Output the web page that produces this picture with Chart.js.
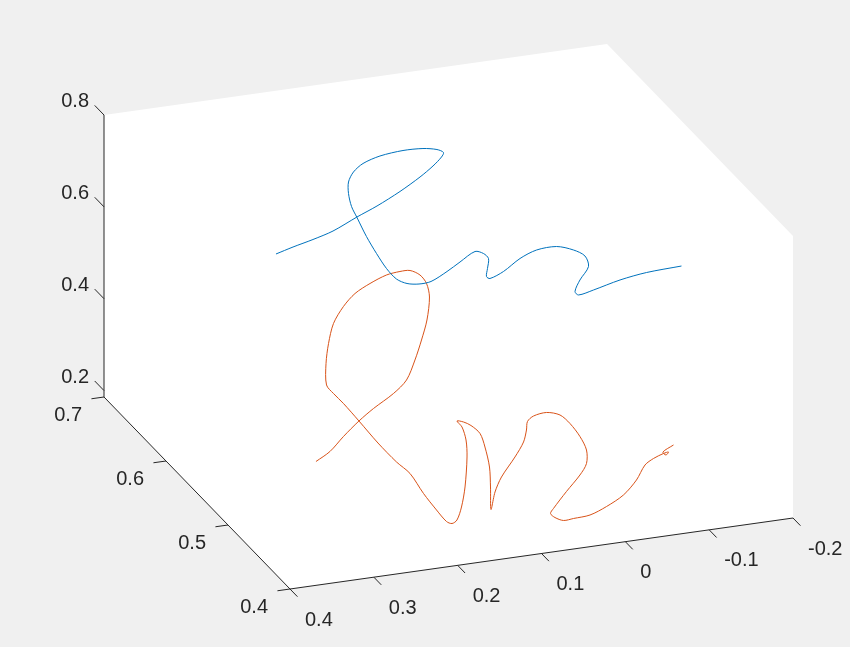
<!DOCTYPE html>
<html>
<head>
<meta charset="utf-8">
<title>plot3</title>
<script src="https://cdn.jsdelivr.net/npm/chart.js@4.4.1/dist/chart.umd.min.js"></script>
<style>
  html, body { margin: 0; padding: 0; background: #f0f0f0; overflow: hidden; }
  #wrap { width: 850px; height: 647px; }
</style>
</head>
<body>
<div id="wrap"><canvas id="c" width="850" height="647"></canvas></div>
<script>
// Axis limits and ticks of the 3-D box
const xLimits = [-0.2, 0.4];
const yLimits = [0.4, 0.7];
const zLimits = [0.186, 0.8];
const xTicks = [0.4, 0.3, 0.2, 0.1, 0, -0.1, -0.2];
const xTickLabels = ['0.4', '0.3', '0.2', '0.1', '0', '-0.1', '-0.2'];
const yTicks = [0.4, 0.5, 0.6, 0.7];
const yTickLabels = ['0.4', '0.5', '0.6', '0.7'];
const zTicks = [0.2, 0.4, 0.6, 0.8];
const zTickLabels = ['0.2', '0.4', '0.6', '0.8'];

// Trajectory 1 (blue)
const blueX = [0.2503,0.2300,0.2062,0.1823,0.1537,0.1298,0.1024,0.0785,0.0630,0.0529,
  0.0505,0.0583,0.0750,0.0988,0.1263,0.1465,0.1579,0.1638,0.1638,0.1602,
  0.1537,0.1424,0.1304,0.1185,0.1066,0.0940,0.0797,0.0654,0.0463,0.0308,0.0129,
  0.0583,0.0523,0.0535,0.0547,0.0505,0.0344,0.0147,-0.0050,-0.0288,-0.0491,
  -0.0628,-0.0670,-0.0568,-0.0509,-0.0551,-0.0729,-0.1046,-0.1362,-0.1779];
const blueY = [0.625,0.625,0.625,0.625,0.625,0.625,0.625,0.625,0.625,0.625,
  0.625,0.625,0.625,0.625,0.625,0.625,0.625,0.625,0.625,0.625,
  0.625,0.625,0.625,0.625,0.625,0.625,0.625,0.625,0.625,0.625,0.625,
  0.55,0.55,0.55,0.55,0.55,0.55,0.55,0.55,0.55,0.55,
  0.55,0.55,0.55,0.55,0.55,0.55,0.55,0.55,0.55];
const blueZ = [0.5633,0.5733,0.5835,0.5958,0.6190,0.6368,0.6613,0.6867,0.7067,0.7236,
  0.7328,0.7413,0.7478,0.7496,0.7447,0.7336,0.7180,0.6978,0.6727,0.6435,
  0.6179,0.5736,0.5335,0.4978,0.4718,0.4588,0.4540,0.4558,0.4726,0.4893,0.5076,
  0.6194,0.6070,0.5855,0.5684,0.5630,0.5741,0.5973,0.6107,0.6122,0.5994,
  0.5828,0.5588,0.5321,0.5086,0.4999,0.5061,0.5198,0.5279,0.5313];

// Trajectory 2 (orange)
const orangeX = [0.3413,0.3246,0.3085,0.2900,0.2727,0.2488,0.2333,0.2232,0.2154,0.2089,
  0.2059,0.2094,0.2172,0.2291,0.2411,0.2572,0.2768,0.2947,0.3085,0.3204,
  0.3263,0.3293,0.3287,0.3204,0.3085,0.2900,0.2673,0.2452,0.2291,0.2130,
  0.1975,0.1856,0.1790,0.1731,0.1677,0.1635,0.1611,0.1623,0.1671,0.1731,
  0.1653,0.1564,0.1456,0.1397,0.1343,0.1331,0.1325,0.1277,0.1200,0.1039,
  0.0937,0.0902,0.0890,0.0818,0.0663,0.0502,0.0383,0.0264,0.0186,0.0186,
  0.0264,0.0425,0.0580,0.0615,0.0562,0.0460,0.0341,0.0144,-0.0053,-0.0255,
  -0.0410,-0.0512,-0.0613,-0.0732,-0.0792,-0.0762,-0.0726,-0.0852];
const orangeY = orangeX.map(() => 0.4375);
const orangeZ = [0.3962,0.4137,0.4422,0.4712,0.4939,0.5205,0.5458,0.5868,0.6283,0.6702,
  0.7195,0.7498,0.7703,0.7832,0.7841,0.7806,0.7672,0.7500,0.7253,0.6913,
  0.6493,0.6065,0.5596,0.5389,0.5141,0.4712,0.4174,0.3704,0.3412,0.2935,
  0.2536,0.2255,0.2194,0.2255,0.2524,0.2949,0.3596,0.3969,0.4265,0.4411,
  0.4369,0.4270,0.4068,0.3758,0.3309,0.2871,0.2379,0.2748,0.3054,0.3449,
  0.3749,0.4001,0.4183,0.4284,0.4321,0.4225,0.4009,0.3695,0.3381,0.3087,
  0.2857,0.2539,0.2209,0.2109,0.2008,0.1917,0.1930,0.1955,0.2089,0.2288,
  0.2574,0.2875,0.2990,0.3068,0.3086,0.3028,0.3103,0.3223];

// Orthographic view: where the box corners land on the 2-D plane
const view = {
  origin: [290, 589],   // (x = 0.4, y = 0.4, z = zmin)
  xEnd:   [793, 518],   // (x = -0.2, y = 0.4, z = zmin)
  yEnd:   [104, 397],   // (x = 0.4, y = 0.7, z = zmin)
  zRise:  282           // height of the z range
};

function project(x, y, z) {
  const u = (xLimits[1] - x) / (xLimits[1] - xLimits[0]);
  const v = (y - yLimits[0]) / (yLimits[1] - yLimits[0]);
  const w = (z - zLimits[0]) / (zLimits[1] - zLimits[0]);
  const [ox, oy] = view.origin;
  return {
    x: ox + u * (view.xEnd[0] - ox) + v * (view.yEnd[0] - ox),
    y: oy + u * (view.xEnd[1] - oy) + v * (view.yEnd[1] - oy) - w * view.zRise
  };
}

function curve(xs, ys, zs) {
  return xs.map((x, i) => project(x, ys[i], zs[i]));
}

const AXIS_COLOR = '#262626';
const axisLine = pts => ({
  data: pts, showLine: true, borderColor: AXIS_COLOR, borderWidth: 1,
  pointRadius: 0, tension: 0, order: 0
});

const datasets = [];
const [x0, x1] = xLimits, [y0, y1] = yLimits, [z0, z1] = zLimits;

// axis lines
datasets.push(axisLine([project(x1, y0, z0), project(x0, y0, z0)]));
datasets.push(axisLine([project(x1, y0, z0), project(x1, y1, z0)]));
datasets.push(axisLine([project(x1, y1, z0), project(x1, y1, z1)]));

// tick marks
xTicks.forEach(t => datasets.push(axisLine([project(t, y0, z0), project(t, y0 - 0.012, z0)])));
yTicks.forEach(t => datasets.push(axisLine([project(x1, t, z0), project(x1 + 0.015, t, z0)])));
zTicks.forEach(t => datasets.push(axisLine([project(x1, y1, t), project(x1, y1 + 0.015, t)])));

// trajectories
datasets.push({
  label: 'trajectory 1', data: curve(blueX, blueY, blueZ), showLine: true,
  borderColor: '#0072BD', borderWidth: 1, pointRadius: 0, tension: 0.3, order: 1
});
datasets.push({
  label: 'trajectory 2', data: curve(orangeX, orangeY, orangeZ), showLine: true,
  borderColor: '#D95319', borderWidth: 1, pointRadius: 0, tension: 0.3, order: 1
});

// white back panel of the box, drawn through the chart scales
const panelPlugin = {
  id: 'panel',
  beforeDatasetsDraw(chart) {
    const { ctx, scales } = chart;
    const corners = [
      project(x1, y1, z1), project(x0, y1, z1), project(x0, y0, z1),
      project(x0, y0, z0), project(x1, y0, z0), project(x1, y1, z0)
    ];
    ctx.save();
    ctx.beginPath();
    corners.forEach((p, i) => {
      const px = scales.x.getPixelForValue(p.x);
      const py = scales.y.getPixelForValue(p.y);
      if (i === 0) ctx.moveTo(px, py); else ctx.lineTo(px, py);
    });
    ctx.closePath();
    ctx.fillStyle = '#ffffff';
    ctx.fill();
    ctx.restore();
  }
};

// tick labels of the three axes
const labelPlugin = {
  id: 'tickLabels',
  afterDatasetsDraw(chart) {
    const { ctx, scales } = chart;
    const px = p => [scales.x.getPixelForValue(p.x), scales.y.getPixelForValue(p.y)];
    ctx.save();
    ctx.font = '20px "Liberation Sans", Arial, Helvetica, sans-serif';
    ctx.fillStyle = AXIS_COLOR;
    ctx.textBaseline = 'middle';
    ctx.textAlign = 'left';
    xTicks.forEach((t, i) => {
      const [a, b] = px(project(t, y0, z0));
      ctx.fillText(xTickLabels[i], a + 15, b + 31);
    });
    ctx.textAlign = 'right';
    yTicks.forEach((t, i) => {
      const [a, b] = px(project(x1, t, z0));
      ctx.fillText(yTickLabels[i], a - 22, b + 18);
    });
    zTicks.forEach((t, i) => {
      const [a, b] = px(project(x1, y1, t));
      ctx.fillText(zTickLabels[i], a - 15, b - 13.5);
    });
    ctx.restore();
  }
};

new Chart(document.getElementById('c'), {
  type: 'scatter',
  data: { datasets },
  options: {
    responsive: false,
    animation: false,
    devicePixelRatio: 1,
    events: [],
    layout: { padding: 0 },
    plugins: { legend: { display: false }, tooltip: { enabled: false } },
    scales: {
      x: { type: 'linear', min: 0, max: 850, display: false },
      y: { type: 'linear', min: 0, max: 647, reverse: true, display: false }
    }
  },
  plugins: [panelPlugin, labelPlugin]
});
</script>
</body>
</html>
